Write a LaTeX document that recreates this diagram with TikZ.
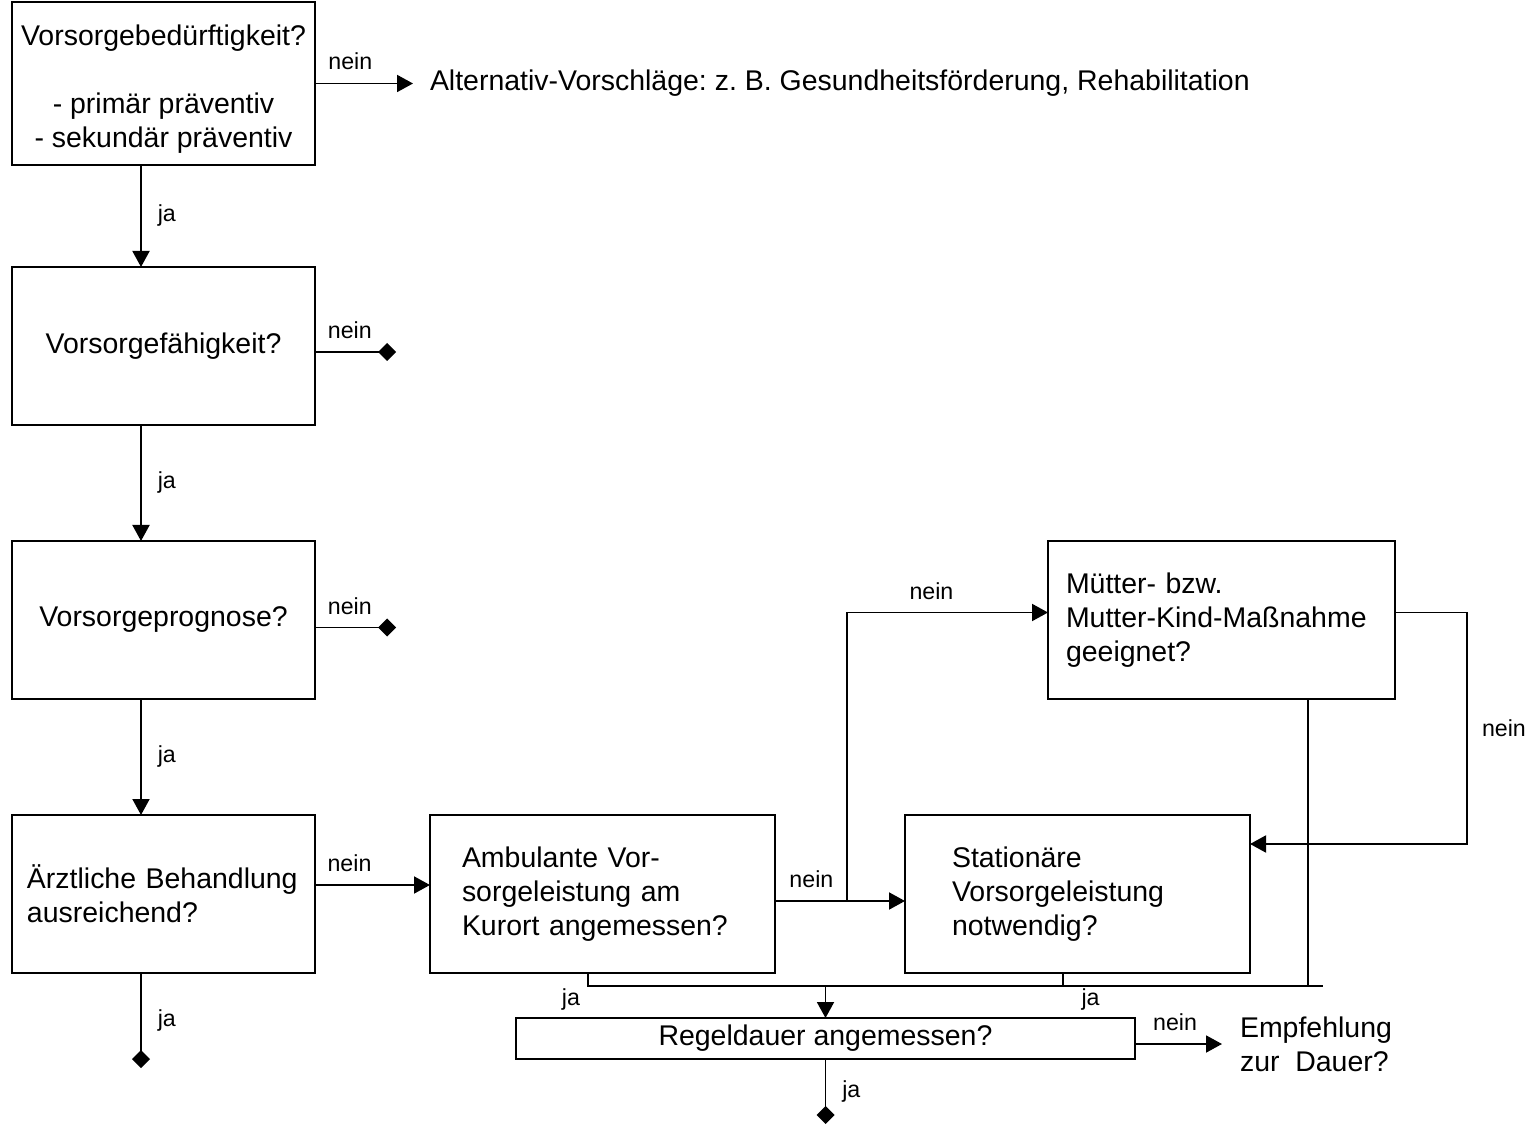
\documentclass[tikz,border=0pt]{standalone}
\usepackage{fontspec}
\setmainfont{Liberation Sans}
\usetikzlibrary{positioning,arrows.meta}

\begin{document}
\frenchspacing
\begin{tikzpicture}[
node distance=2.32cm,
box/.style={
rectangle,draw,line width=1.1pt,outer sep=0pt,minimum width=6.06cm,minimum height=3.16cm,
inner ysep=0pt,align=center,font=\fontsize{16.2}{19.4}\selectfont
},
wide/.style={minimum width=6.9cm},
txt/.style={inner ysep=0pt,outer sep=0pt,align=left,font=\fontsize{16.2}{19.4}\selectfont},
lbl/.style={inner sep=0pt,font=\fontsize{13.2}{15}\selectfont},
line/.style={line width=1.1pt},
arrow/.style={-{Triangle[length=3.2mm,width=3.4mm]},line width=1.1pt},
stop/.style={-{Diamond[length=3.6mm,width=3.6mm]},line width=1.1pt}
]
\useasboundingbox (0,0) rectangle (30.6,-22.5);

% left column
\node[box,minimum height=3.26cm] (b1) at (3.27,-1.67)
  {\rule{0pt}{18pt}Vorsorgebedürftigkeit?\\[\baselineskip]- primär präventiv\\- sekundär präventiv};
\node[box,below=2.04cm of b1] (b2) {Vorsorgefähigkeit?};
\node[box,below=of b2] (b3) {Vorsorgeprognose?};
\node[box,below=of b3,align=left,inner xsep=0.3cm,text width=5.46cm] (b4)
  {Ärztliche Behandlung\\ausreichend?};

% right part
\node[box,wide,right=2.3cm of b4,align=left,inner xsep=0.64cm,text width=5.62cm] (b5)
  {Ambulante Vor-\\sorgeleistung am\\Kurort angemessen?};
\node[box,wide,right=2.6cm of b5,align=left,inner xsep=0.94cm,text width=5.02cm] (b6)
  {Stationäre\\Vorsorgeleistung\\notwendig?};
\node[box,minimum width=6.94cm,anchor=south west,align=left,inner xsep=0.36cm,text width=6.22cm] (b7)
  at ([xshift=2.86cm,yshift=2.32cm]b6.north west)
  {Mütter- bzw.\\Mutter-Kind-Maßnahme\\geeignet?};
\node[box,minimum width=12.38cm,minimum height=0.82cm,below=0.9cm of b5,xshift=4.46cm] (b8)
  {Regeldauer angemessen?};

% outcomes
\node[txt,right=1.96cm of b1,inner xsep=0.34cm] (alt)
  {Alternativ-Vorschläge: z. B. Gesundheitsförderung, Rehabilitation};
\node[txt,anchor=west,inner xsep=0.36cm] (emp) at ([xshift=1.74cm,yshift=-0.11cm]b8.east)
  {Empfehlung\\zur\ \ Dauer?};

\coordinate (e2) at ([xshift=1.62cm,yshift=-0.12cm]b2.east);
\coordinate (e3) at ([xshift=1.62cm,yshift=-0.15cm]b3.east);
\coordinate (e4) at ([xshift=-0.45cm,yshift=-1.9cm]b4.south);
\coordinate (e8) at ([yshift=-1.3cm]b8.south);

% ja
\draw[arrow] ([xshift=-0.45cm]b1.south) -- node[lbl,right=9pt]{ja} ([xshift=-0.45cm]b2.north);
\draw[arrow] ([xshift=-0.45cm]b2.south) -- node[lbl,right=9pt]{ja} ([xshift=-0.45cm]b3.north);
\draw[arrow] ([xshift=-0.45cm]b3.south) -- node[lbl,right=9pt]{ja} ([xshift=-0.45cm]b4.north);
\draw[stop] ([xshift=-0.45cm]b4.south) -- node[lbl,right=9pt]{ja} (e4);
\draw[stop] (b8.south) -- node[lbl,right=9pt]{ja} (e8);

% nein
\draw[arrow] (b1.east) -- node[lbl,above=7pt,pos=0.36]{nein} (alt.west);
\draw[stop] ([yshift=-0.12cm]b2.east) -- node[lbl,above=7pt,pos=0.43]{nein} (e2);
\draw[stop] ([yshift=-0.15cm]b3.east) -- node[lbl,above=7pt,pos=0.43]{nein} (e3);
\draw[arrow] ([yshift=0.18cm]b4.east) -- node[lbl,above=7pt,pos=0.3]{nein} ([yshift=0.18cm]b5.west);
\draw[arrow] ([yshift=-0.14cm]b5.east) -- node[lbl,above=7pt,pos=0.28]{nein} ([yshift=-0.14cm]b6.west);
\coordinate (br) at ([xshift=1.44cm,yshift=-0.14cm]b5.east);
\draw[arrow] (br) |- node[lbl,above=7pt,pos=0.71]{nein} ([yshift=0.15cm]b7.west);
\draw[arrow] ([yshift=0.15cm]b7.east) -- ++(1.44,0) |- node[lbl,right=8pt,pos=0.25]{nein} ([yshift=1cm]b6.east);
\draw[arrow] ([yshift=-0.11cm]b8.east) -- node[lbl,above=7pt,pos=0.46]{nein} (emp.west);

% ja bus into b8
\coordinate (d5) at ([xshift=-0.29cm]b5.south);
\coordinate (d6) at ([xshift=-0.29cm]b6.south);
\coordinate (d7) at ([xshift=1.73cm]b7.south);
\coordinate (busL) at ([yshift=-0.26cm]d5);
\path (d7 |- busL) ++(0.3,0) coordinate (busR);
\draw[line] (d5) -- (busL) node[lbl,below left=1pt and 4pt]{ja} -- (busR);
\draw[line] (d6) -- (d6 |- busL) node[lbl,below right=1pt and 10pt]{ja};
\draw[line] (d7) -- (d7 |- busL);
\draw[arrow] (b8.north |- busL) -- (b8.north);

\end{tikzpicture}
\end{document}
